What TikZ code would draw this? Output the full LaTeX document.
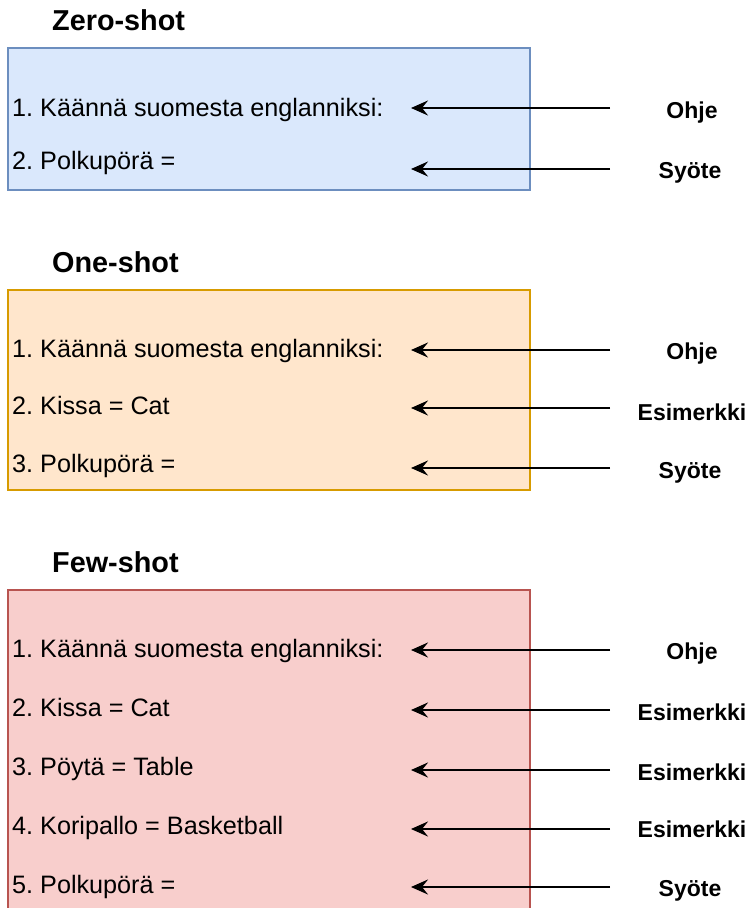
\documentclass[tikz,border=0pt]{standalone}
\usepackage{fontspec}
\setmainfont{Liberation Sans}
\usetikzlibrary{arrows.meta}
\frenchspacing

\definecolor{zeroFill}{HTML}{DAE8FC}
\definecolor{zeroLine}{HTML}{6C8EBF}
\definecolor{oneFill}{HTML}{FFE6CC}
\definecolor{oneLine}{HTML}{D79B00}
\definecolor{fewFill}{HTML}{F8CECC}
\definecolor{fewLine}{HTML}{B85450}

\begin{document}
\begin{tikzpicture}[x=1pt,y=-1pt,
  panel/.style={line width=1.5pt, anchor=north west, inner sep=0pt, outer sep=0pt},
  heading/.style={anchor=base west, inner sep=0pt, font=\bfseries\fontsize{28.8}{34}\selectfont},
  item/.style={anchor=base west, inner sep=0pt, font=\fontsize{25.2}{30}\selectfont},
  role/.style={anchor=base, inner sep=0pt, font=\bfseries\fontsize{23}{27}\selectfont},
  pointer/.style={line width=2.2pt, -{Stealth[length=17pt,width=15pt,inset=6pt]}}]

\clip (0,0) rectangle (750,908);
\fill[white] (0,0) rectangle (750,908);

% ---------- Zero-shot ----------
\node[heading] (zeroTitle) at (52,30) {Zero-shot};
\node[panel, draw=zeroLine, fill=zeroFill, minimum width=522pt, minimum height=142pt] (zeroBox) at (8,48) {};
\node[item] (z1) at (12,116) {1. Käännä suomesta englanniksi:};
\node[item] (z2) at (12,169) {2. Polkupörä =};
\node[role] (zr1) at (692,118) {Ohje};
\node[role] (zr2) at (690,178) {Syöte};
\coordinate (zs1) at (610,108); \coordinate (zt1) at (411,108);
\coordinate (zs2) at (610,169); \coordinate (zt2) at (411,169);
\draw[pointer] (zs1) -- (zt1);
\draw[pointer] (zs2) -- (zt2);

% ---------- One-shot ----------
\node[heading] (oneTitle) at (52,272) {One-shot};
\node[panel, draw=oneLine, fill=oneFill, minimum width=522pt, minimum height=200pt] (oneBox) at (8,290) {};
\node[item] (o1) at (12,357) {1. Käännä suomesta englanniksi:};
\node[item] (o2) at (12,414) {2. Kissa = Cat};
\node[item] (o3) at (12,472) {3. Polkupörä =};
\node[role] (or1) at (692,359) {Ohje};
\node[role] (or2) at (692,420) {Esimerkki};
\node[role] (or3) at (690,478) {Syöte};
\coordinate (os1) at (610,350); \coordinate (ot1) at (411,350);
\coordinate (os2) at (610,408); \coordinate (ot2) at (411,408);
\coordinate (os3) at (610,468); \coordinate (ot3) at (411,468);
\draw[pointer] (os1) -- (ot1);
\draw[pointer] (os2) -- (ot2);
\draw[pointer] (os3) -- (ot3);

% ---------- Few-shot ----------
\node[heading] (fewTitle) at (52,572) {Few-shot};
\node[panel, draw=fewLine, fill=fewFill, minimum width=522pt, minimum height=340pt] (fewBox) at (8,590) {};
\node[item] (f1) at (12,657) {1. Käännä suomesta englanniksi:};
\node[item] (f2) at (12,716) {2. Kissa = Cat};
\node[item] (f3) at (12,775) {3. Pöytä = Table};
\node[item] (f4) at (12,834) {4. Koripallo = Basketball};
\node[item] (f5) at (12,893) {5. Polkupörä =};
\node[role] (fr1) at (692,659) {Ohje};
\node[role] (fr2) at (692,720) {Esimerkki};
\node[role] (fr3) at (692,780) {Esimerkki};
\node[role] (fr4) at (692,837) {Esimerkki};
\node[role] (fr5) at (690,896) {Syöte};
\coordinate (fs1) at (610,650); \coordinate (ft1) at (411,650);
\coordinate (fs2) at (610,710); \coordinate (ft2) at (411,710);
\coordinate (fs3) at (610,770); \coordinate (ft3) at (411,770);
\coordinate (fs4) at (610,829); \coordinate (ft4) at (411,829);
\coordinate (fs5) at (610,887); \coordinate (ft5) at (411,887);
\draw[pointer] (fs1) -- (ft1);
\draw[pointer] (fs2) -- (ft2);
\draw[pointer] (fs3) -- (ft3);
\draw[pointer] (fs4) -- (ft4);
\draw[pointer] (fs5) -- (ft5);

\end{tikzpicture}
\end{document}
